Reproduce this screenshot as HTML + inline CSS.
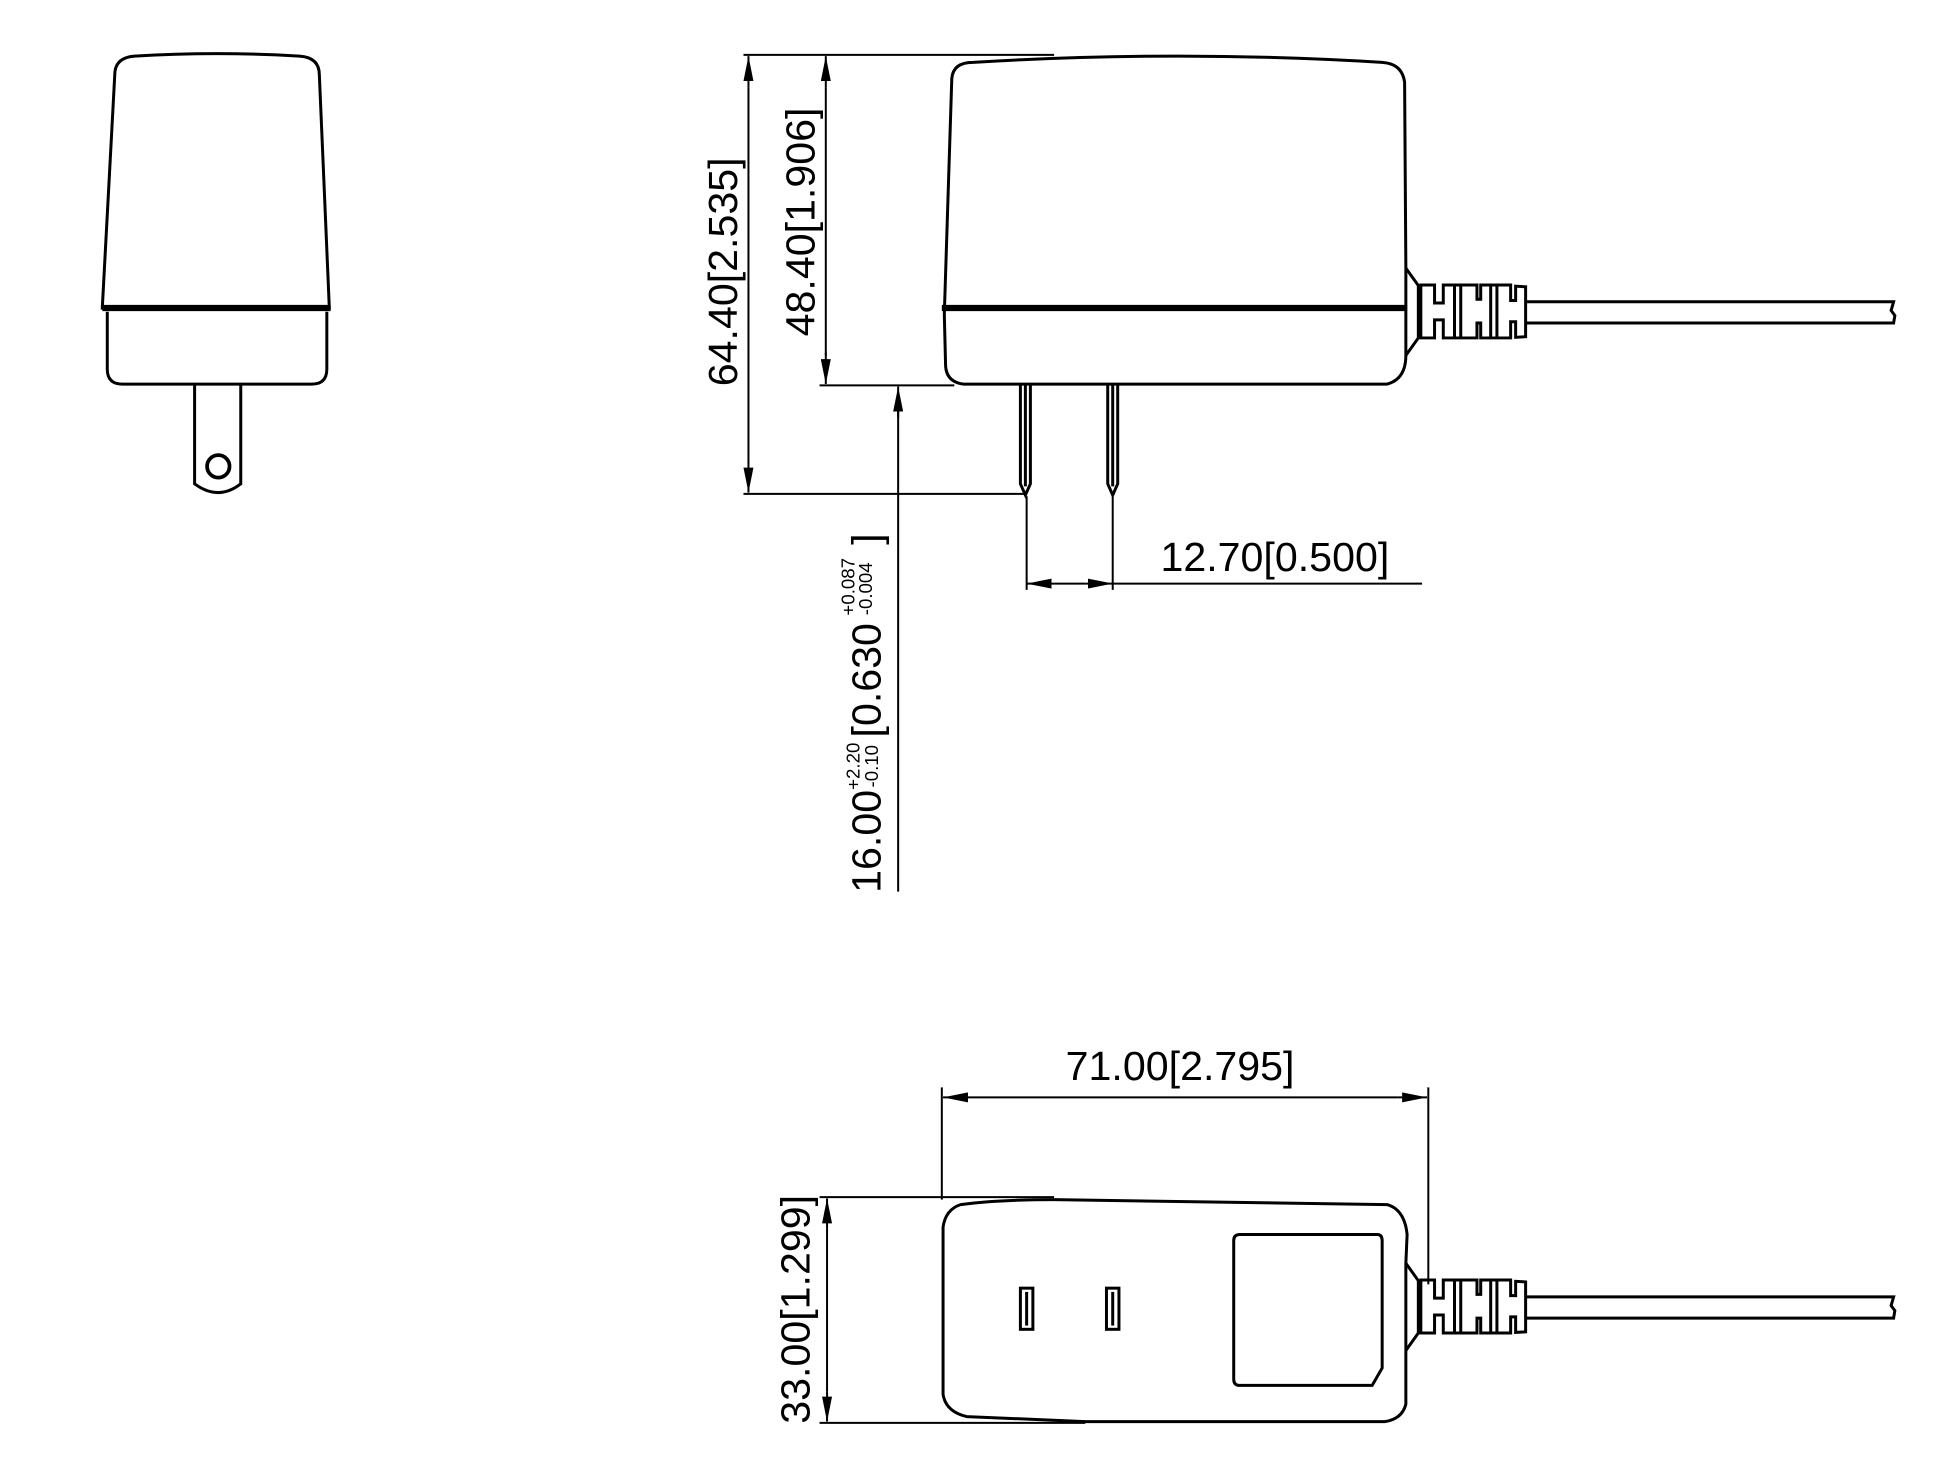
<!DOCTYPE html>
<html><head><meta charset="utf-8"><style>
html,body{margin:0;padding:0;background:#fff;}
svg{display:block;}
text{font-family:"Liberation Sans",Arial,sans-serif;fill:#000;}
</style></head><body>
<svg width="1946" height="1459" viewBox="0 0 1560 1170" preserveAspectRatio="none" xmlns="http://www.w3.org/2000/svg">
<defs>
<marker id="a" viewBox="0 0 20 8" refX="20" refY="4" markerWidth="20" markerHeight="8" markerUnits="userSpaceOnUse" orient="auto"><path d="M0,0 L20,4 L0,8 Z" fill="#000"/></marker>
<g id="sr" fill="none" stroke="#000" stroke-width="2.4">
<path d="M1139,228.5 L1150,228.5 L1150,243 L1157,243 L1157,228.5 L1184,228.5 L1184,240 L1187,240 L1187,228.5 L1211,228.5 L1211,241 L1215,241 L1215,229.5 L1223,230 L1223,270 L1215,270.5 L1215,258 L1211,258 L1211,271 L1187,271 L1187,259 L1184,259 L1184,271 L1157,271 L1157,256.5 L1150,256.5 L1150,271 L1139,271 Z"/>
<path d="M1166,228.5 V271 M1171,228.5 V271 M1195,228.5 V271 M1200,228.5 V271"/>
<path d="M1223,242 L1518,242 L1516,249 L1519,253 L1518,259 L1223,259"/>
<path d="M1127,215 L1137,229 L1137,271 L1127,285"/>
</g>
</defs>
<g fill="none" stroke="#000" stroke-width="2.4">
<!-- Left view -->
<path d="M92,60 Q92,46 108,45 Q174,41 240,45 Q256,46 256,60 L264,247 L82,247 Z"/>
<line x1="82" y1="247" x2="265" y2="247" stroke-width="5"/>
<path d="M86,250 L86,296 Q86,308 98,308 L250,308 Q262,308 262,296 L262,250"/>
<path d="M156,308 L156,388 Q175,402 193,388 L193,308"/>
<circle cx="175" cy="374" r="9" stroke-width="3"/>

<!-- Side view -->
<path d="M763,63 Q764,50 780,50 Q945,40 1108,50 Q1124,51 1126,66 L1127,215 L1127,285 Q1127,304 1112,308 L772,308 Q758,306 758,292 L757,252 L763,63 Z"/>
<line x1="755" y1="247" x2="1128" y2="247" stroke-width="5"/>
<path d="M818,308 L818,388 L822,397 L826,388 L826,308 M822,308 L822,390"/>
<path d="M888,308 L888,388 L892,397 L896,388 L896,308 M892,308 L892,390"/>
<use href="#sr"/>

<!-- dimension lines top -->
<line x1="596" y1="44" x2="845" y2="44" stroke-width="1.6"/>
<line x1="596" y1="396" x2="822" y2="396" stroke-width="1.6"/>
<line x1="657" y1="309" x2="765" y2="309" stroke-width="1.6"/>
<line x1="600" y1="70" x2="600" y2="372" stroke-width="1.6"/>
<line x1="600" y1="70" x2="600" y2="45" stroke-width="1.6" marker-end="url(#a)"/>
<line x1="600" y1="370" x2="600" y2="395" stroke-width="1.6" marker-end="url(#a)"/>
<line x1="662" y1="70" x2="662" y2="285" stroke-width="1.6"/>
<line x1="662" y1="70" x2="662" y2="45" stroke-width="1.6" marker-end="url(#a)"/>
<line x1="662" y1="283" x2="662" y2="308" stroke-width="1.6" marker-end="url(#a)"/>
<line x1="720" y1="715" x2="720" y2="330" stroke-width="1.6"/>
<line x1="720" y1="335" x2="720" y2="310" stroke-width="1.6" marker-end="url(#a)"/>
<!-- 12.70 -->
<line x1="823" y1="398" x2="823" y2="473" stroke-width="1.6"/>
<line x1="892" y1="398" x2="892" y2="473" stroke-width="1.6"/>
<line x1="845" y1="468" x2="870" y2="468" stroke-width="1.6"/>
<line x1="845" y1="468" x2="823" y2="468" stroke-width="1.6" marker-end="url(#a)"/>
<line x1="870" y1="468" x2="892" y2="468" stroke-width="1.6" marker-end="url(#a)"/>
<line x1="892" y1="468" x2="1140" y2="468" stroke-width="1.6"/>

<!-- Bottom view -->
<path d="M770,966 Q800,962 845,962 L1112,966 Q1126,970 1128,990 L1127,1013 L1127,1083 L1127,1126 Q1124,1138 1110,1140 L870,1140 Q820,1138 775,1136 Q758,1132 756,1118 L756,984 Q758,970 770,966 Z"/>
<path d="M994,990 L1104,990 Q1108,990 1108,995 L1108,1097 L1100,1111 L994,1111 Q989,1111 989,1106 L989,995 Q989,990 994,990 Z"/>
<rect x="818" y="1033" width="10" height="33"/>
<rect x="887" y="1033" width="10" height="33"/>
<line x1="823" y1="1036" x2="823" y2="1063"/>
<line x1="892" y1="1036" x2="892" y2="1063"/>
<use href="#sr" transform="translate(0,798)"/>

<!-- 71.00 -->
<line x1="755" y1="872" x2="755" y2="962" stroke-width="1.6"/>
<line x1="1145" y1="872" x2="1145" y2="1030" stroke-width="1.6"/>
<line x1="780" y1="880" x2="1120" y2="880" stroke-width="1.6"/>
<line x1="780" y1="880" x2="756" y2="880" stroke-width="1.6" marker-end="url(#a)"/>
<line x1="1120" y1="880" x2="1144" y2="880" stroke-width="1.6" marker-end="url(#a)"/>
<!-- 33.00 -->
<line x1="657" y1="960" x2="845" y2="960" stroke-width="1.6"/>
<line x1="657" y1="1141" x2="870" y2="1141" stroke-width="1.6"/>
<line x1="663" y1="985" x2="663" y2="1116" stroke-width="1.6"/>
<line x1="663" y1="985" x2="663" y2="961" stroke-width="1.6" marker-end="url(#a)"/>
<line x1="663" y1="1116" x2="663" y2="1140" stroke-width="1.6" marker-end="url(#a)"/>
</g>

<text x="0" y="0" font-size="33" transform="translate(591,218) rotate(-90)" text-anchor="middle">64.40[2.535]</text>
<text x="0" y="0" font-size="33" transform="translate(653,178) rotate(-90)" text-anchor="middle">48.40[1.906]</text>
<text font-size="33" transform="translate(706,716) rotate(-90)">16.00<tspan font-size="15" dy="-17">+2.20</tspan><tspan font-size="15" dx="-36" dy="15">-0.10</tspan><tspan dy="2" dx="6">[0.630</tspan><tspan font-size="15" dx="6" dy="-21">+0.087</tspan><tspan font-size="15" dx="-46" dy="14">-0.004</tspan><tspan dx="14" dy="7">]</tspan></text>
<text x="1022" y="458" font-size="33" text-anchor="middle">12.70[0.500]</text>
<text x="946" y="866" font-size="33" text-anchor="middle">71.00[2.795]</text>
<text x="0" y="0" font-size="33" transform="translate(649,1050) rotate(-90)" text-anchor="middle">33.00[1.299]</text>
</svg>
</body></html>
